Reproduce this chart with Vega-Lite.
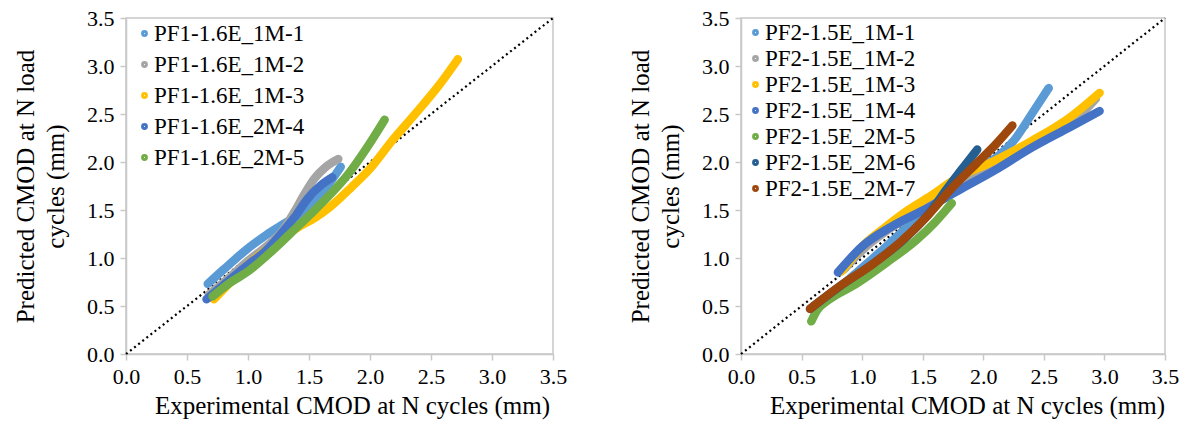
{
  "$schema": "https://vega.github.io/schema/vega-lite/v6.json",
  "background": "white",
  "padding": {"left": 12, "top": 6, "right": 5, "bottom": 2},
  "spacing": 188,
  "bounds": "flush",
  "datasets": {
    "pf1": [
      {"series": "PF1-1.6E_1M-1", "x": 0.67, "y": 0.73},
      {"series": "PF1-1.6E_1M-1", "x": 0.8, "y": 0.88},
      {"series": "PF1-1.6E_1M-1", "x": 1.0, "y": 1.1},
      {"series": "PF1-1.6E_1M-1", "x": 1.15, "y": 1.24},
      {"series": "PF1-1.6E_1M-1", "x": 1.3, "y": 1.36},
      {"series": "PF1-1.6E_1M-1", "x": 1.45, "y": 1.48},
      {"series": "PF1-1.6E_1M-1", "x": 1.6, "y": 1.65},
      {"series": "PF1-1.6E_1M-1", "x": 1.69, "y": 1.82},
      {"series": "PF1-1.6E_1M-1", "x": 1.76, "y": 1.95},
      {"series": "PF1-1.6E_1M-2", "x": 0.68, "y": 0.62},
      {"series": "PF1-1.6E_1M-2", "x": 0.85, "y": 0.8},
      {"series": "PF1-1.6E_1M-2", "x": 1.0, "y": 0.97},
      {"series": "PF1-1.6E_1M-2", "x": 1.15, "y": 1.12},
      {"series": "PF1-1.6E_1M-2", "x": 1.28, "y": 1.28},
      {"series": "PF1-1.6E_1M-2", "x": 1.38, "y": 1.48},
      {"series": "PF1-1.6E_1M-2", "x": 1.46, "y": 1.66},
      {"series": "PF1-1.6E_1M-2", "x": 1.54, "y": 1.82},
      {"series": "PF1-1.6E_1M-2", "x": 1.63, "y": 1.94},
      {"series": "PF1-1.6E_1M-2", "x": 1.74, "y": 2.03},
      {"series": "PF1-1.6E_1M-3", "x": 0.72, "y": 0.57},
      {"series": "PF1-1.6E_1M-3", "x": 0.82, "y": 0.7},
      {"series": "PF1-1.6E_1M-3", "x": 1.0, "y": 0.93},
      {"series": "PF1-1.6E_1M-3", "x": 1.2, "y": 1.13},
      {"series": "PF1-1.6E_1M-3", "x": 1.41, "y": 1.32},
      {"series": "PF1-1.6E_1M-3", "x": 1.55, "y": 1.42},
      {"series": "PF1-1.6E_1M-3", "x": 1.68, "y": 1.54},
      {"series": "PF1-1.6E_1M-3", "x": 1.85, "y": 1.74},
      {"series": "PF1-1.6E_1M-3", "x": 2.0, "y": 1.93},
      {"series": "PF1-1.6E_1M-3", "x": 2.18, "y": 2.22},
      {"series": "PF1-1.6E_1M-3", "x": 2.37, "y": 2.5},
      {"series": "PF1-1.6E_1M-3", "x": 2.56, "y": 2.79},
      {"series": "PF1-1.6E_1M-3", "x": 2.72, "y": 3.07},
      {"series": "PF1-1.6E_2M-4", "x": 0.66, "y": 0.57},
      {"series": "PF1-1.6E_2M-4", "x": 0.8, "y": 0.72},
      {"series": "PF1-1.6E_2M-4", "x": 1.0, "y": 0.93},
      {"series": "PF1-1.6E_2M-4", "x": 1.15, "y": 1.08},
      {"series": "PF1-1.6E_2M-4", "x": 1.27, "y": 1.25},
      {"series": "PF1-1.6E_2M-4", "x": 1.38, "y": 1.42},
      {"series": "PF1-1.6E_2M-4", "x": 1.49, "y": 1.62},
      {"series": "PF1-1.6E_2M-4", "x": 1.6, "y": 1.76},
      {"series": "PF1-1.6E_2M-4", "x": 1.69, "y": 1.84},
      {"series": "PF1-1.6E_2M-5", "x": 0.71, "y": 0.6},
      {"series": "PF1-1.6E_2M-5", "x": 0.85, "y": 0.74},
      {"series": "PF1-1.6E_2M-5", "x": 1.0, "y": 0.86},
      {"series": "PF1-1.6E_2M-5", "x": 1.15, "y": 1.02},
      {"series": "PF1-1.6E_2M-5", "x": 1.27, "y": 1.16},
      {"series": "PF1-1.6E_2M-5", "x": 1.4, "y": 1.32},
      {"series": "PF1-1.6E_2M-5", "x": 1.54, "y": 1.49},
      {"series": "PF1-1.6E_2M-5", "x": 1.68, "y": 1.67},
      {"series": "PF1-1.6E_2M-5", "x": 1.82, "y": 1.87},
      {"series": "PF1-1.6E_2M-5", "x": 1.96, "y": 2.12},
      {"series": "PF1-1.6E_2M-5", "x": 2.12, "y": 2.44}
    ],
    "pf2": [
      {"series": "PF2-1.5E_1M-1", "x": 0.6, "y": 0.5},
      {"series": "PF2-1.5E_1M-1", "x": 0.8, "y": 0.68},
      {"series": "PF2-1.5E_1M-1", "x": 1.0, "y": 0.9},
      {"series": "PF2-1.5E_1M-1", "x": 1.2, "y": 1.12},
      {"series": "PF2-1.5E_1M-1", "x": 1.4, "y": 1.36},
      {"series": "PF2-1.5E_1M-1", "x": 1.6, "y": 1.6},
      {"series": "PF2-1.5E_1M-1", "x": 1.8, "y": 1.8},
      {"series": "PF2-1.5E_1M-1", "x": 2.0, "y": 1.96},
      {"series": "PF2-1.5E_1M-1", "x": 2.13, "y": 2.07},
      {"series": "PF2-1.5E_1M-1", "x": 2.25, "y": 2.22},
      {"series": "PF2-1.5E_1M-1", "x": 2.4, "y": 2.5},
      {"series": "PF2-1.5E_1M-1", "x": 2.54, "y": 2.77},
      {"series": "PF2-1.5E_1M-2", "x": 0.85, "y": 0.88},
      {"series": "PF2-1.5E_1M-2", "x": 1.0, "y": 1.08},
      {"series": "PF2-1.5E_1M-2", "x": 1.2, "y": 1.28},
      {"series": "PF2-1.5E_1M-2", "x": 1.4, "y": 1.44},
      {"series": "PF2-1.5E_1M-2", "x": 1.6, "y": 1.6},
      {"series": "PF2-1.5E_1M-2", "x": 1.8, "y": 1.78},
      {"series": "PF2-1.5E_1M-2", "x": 2.0, "y": 1.92},
      {"series": "PF2-1.5E_1M-2", "x": 2.2, "y": 2.04},
      {"series": "PF2-1.5E_1M-2", "x": 2.4, "y": 2.18},
      {"series": "PF2-1.5E_1M-2", "x": 2.6, "y": 2.32},
      {"series": "PF2-1.5E_1M-2", "x": 2.8, "y": 2.49},
      {"series": "PF2-1.5E_1M-2", "x": 2.93, "y": 2.66},
      {"series": "PF2-1.5E_1M-3", "x": 0.83, "y": 0.86},
      {"series": "PF2-1.5E_1M-3", "x": 1.0, "y": 1.12},
      {"series": "PF2-1.5E_1M-3", "x": 1.2, "y": 1.33},
      {"series": "PF2-1.5E_1M-3", "x": 1.38, "y": 1.5},
      {"series": "PF2-1.5E_1M-3", "x": 1.57, "y": 1.65},
      {"series": "PF2-1.5E_1M-3", "x": 1.79, "y": 1.84},
      {"series": "PF2-1.5E_1M-3", "x": 2.09, "y": 2.01},
      {"series": "PF2-1.5E_1M-3", "x": 2.4, "y": 2.22},
      {"series": "PF2-1.5E_1M-3", "x": 2.71, "y": 2.46},
      {"series": "PF2-1.5E_1M-3", "x": 2.96, "y": 2.72},
      {"series": "PF2-1.5E_1M-4", "x": 0.8, "y": 0.85},
      {"series": "PF2-1.5E_1M-4", "x": 1.0, "y": 1.12},
      {"series": "PF2-1.5E_1M-4", "x": 1.26, "y": 1.34},
      {"series": "PF2-1.5E_1M-4", "x": 1.54, "y": 1.52},
      {"series": "PF2-1.5E_1M-4", "x": 1.79, "y": 1.7},
      {"series": "PF2-1.5E_1M-4", "x": 2.09, "y": 1.91},
      {"series": "PF2-1.5E_1M-4", "x": 2.4, "y": 2.15},
      {"series": "PF2-1.5E_1M-4", "x": 2.71, "y": 2.36},
      {"series": "PF2-1.5E_1M-4", "x": 2.96, "y": 2.53},
      {"series": "PF2-1.5E_2M-5", "x": 0.58, "y": 0.34},
      {"series": "PF2-1.5E_2M-5", "x": 0.63, "y": 0.46},
      {"series": "PF2-1.5E_2M-5", "x": 0.72, "y": 0.56},
      {"series": "PF2-1.5E_2M-5", "x": 0.95, "y": 0.73},
      {"series": "PF2-1.5E_2M-5", "x": 1.2, "y": 0.95},
      {"series": "PF2-1.5E_2M-5", "x": 1.45, "y": 1.19},
      {"series": "PF2-1.5E_2M-5", "x": 1.6, "y": 1.37},
      {"series": "PF2-1.5E_2M-5", "x": 1.74, "y": 1.57},
      {"series": "PF2-1.5E_2M-6", "x": 0.57, "y": 0.47},
      {"series": "PF2-1.5E_2M-6", "x": 0.8, "y": 0.69},
      {"series": "PF2-1.5E_2M-6", "x": 1.1, "y": 0.95},
      {"series": "PF2-1.5E_2M-6", "x": 1.35, "y": 1.2},
      {"series": "PF2-1.5E_2M-6", "x": 1.55, "y": 1.46},
      {"series": "PF2-1.5E_2M-6", "x": 1.7, "y": 1.72},
      {"series": "PF2-1.5E_2M-6", "x": 1.82, "y": 1.92},
      {"series": "PF2-1.5E_2M-6", "x": 1.95, "y": 2.13},
      {"series": "PF2-1.5E_2M-7", "x": 0.57, "y": 0.47},
      {"series": "PF2-1.5E_2M-7", "x": 0.83, "y": 0.72},
      {"series": "PF2-1.5E_2M-7", "x": 1.08, "y": 0.93},
      {"series": "PF2-1.5E_2M-7", "x": 1.32, "y": 1.17},
      {"series": "PF2-1.5E_2M-7", "x": 1.54, "y": 1.44},
      {"series": "PF2-1.5E_2M-7", "x": 1.72, "y": 1.7},
      {"series": "PF2-1.5E_2M-7", "x": 1.94, "y": 1.98},
      {"series": "PF2-1.5E_2M-7", "x": 2.1, "y": 2.18},
      {"series": "PF2-1.5E_2M-7", "x": 2.24, "y": 2.38}
    ],
    "diagonal": [
      {"x": 0, "y": 0},
      {"x": 3.5, "y": 3.5}
    ]
  },
  "config": {
    "view": {"stroke": "#c8c8c8", "strokeWidth": 1.5},
    "legend": {
      "orient": "none",
      "title": null,
      "padding": 0,
      "labelFont": "Liberation Serif, serif",
      "labelFontSize": 23,
      "labelColor": "#000000",
      "labelOffset": -2,
      "symbolType": "circle",
      "symbolSize": 8,
      "symbolStrokeWidth": 4
    }
  },
  "resolve": {"scale": {"color": "independent"}, "legend": {"color": "independent"}},
  "hconcat": [
    {
      "width": 427,
      "height": 336,
      "encoding": {
        "x": {"field": "x", "type": "quantitative", "scale": {"domain": [0, 3.5], "nice": false},
          "axis": {"title": "Experimental CMOD at N cycles (mm)", "values": [0, 0.5, 1, 1.5, 2, 2.5, 3, 3.5], "format": ".1f", "grid": false, "domainColor": "#c8c8c8", "domainWidth": 1.5, "tickColor": "#c8c8c8", "tickWidth": 1.5, "tickSize": 6, "labelFlush": false, "labelFont": "Liberation Serif", "labelFontSize": 22, "labelColor": "#000000", "labelPadding": 6, "titleFont": "Liberation Serif", "titleFontSize": 25, "titleFontWeight": "normal", "titleColor": "#000000", "titleX": 226, "titlePadding": 6}},
        "y": {"field": "y", "type": "quantitative", "scale": {"domain": [0, 3.5], "nice": false},
          "axis": {"title": ["Predicted CMOD at N load", "cycles (mm)"], "values": [0, 0.5, 1, 1.5, 2, 2.5, 3, 3.5], "format": ".1f", "grid": false, "domainColor": "#c8c8c8", "domainWidth": 1.5, "tickColor": "#c8c8c8", "tickWidth": 1.5, "tickSize": 6, "labelFlush": false, "labelFont": "Liberation Serif", "labelFontSize": 22, "labelColor": "#000000", "labelPadding": 6, "titleFont": "Liberation Serif", "titleFontSize": 25, "titleFontWeight": "normal", "titleColor": "#000000", "titlePadding": 18, "titleLineHeight": 30}}
      },
      "layer": [
        {
          "data": {"name": "diagonal"},
          "mark": {"type": "line", "color": "#000000", "strokeWidth": 2.2, "strokeDash": [2, 3.2]}
        },
        {
          "data": {"name": "pf1"},
          "mark": {"type": "line", "strokeWidth": 8.5, "strokeCap": "round", "strokeJoin": "round", "interpolate": "monotone"},
          "encoding": {
            "color": {
              "field": "series", "type": "nominal",
              "scale": {
                "domain": ["PF1-1.6E_1M-1", "PF1-1.6E_1M-2", "PF1-1.6E_1M-3", "PF1-1.6E_2M-4", "PF1-1.6E_2M-5"],
                "range": ["#5B9BD5", "#A5A5A5", "#FFC000", "#4472C4", "#70AD47"]
              },
              "legend": {"legendX": 7, "legendY": 4, "rowPadding": 7}
            }
          }
        }
      ]
    },
    {
      "width": 424,
      "height": 336,
      "encoding": {
        "x": {"field": "x", "type": "quantitative", "scale": {"domain": [0, 3.5], "nice": false},
          "axis": {"title": "Experimental CMOD at N cycles (mm)", "values": [0, 0.5, 1, 1.5, 2, 2.5, 3, 3.5], "format": ".1f", "grid": false, "domainColor": "#c8c8c8", "domainWidth": 1.5, "tickColor": "#c8c8c8", "tickWidth": 1.5, "tickSize": 6, "labelFlush": false, "labelFont": "Liberation Serif", "labelFontSize": 22, "labelColor": "#000000", "labelPadding": 6, "titleFont": "Liberation Serif", "titleFontSize": 25, "titleFontWeight": "normal", "titleColor": "#000000", "titleX": 226, "titlePadding": 6}},
        "y": {"field": "y", "type": "quantitative", "scale": {"domain": [0, 3.5], "nice": false},
          "axis": {"title": ["Predicted CMOD at N load", "cycles (mm)"], "values": [0, 0.5, 1, 1.5, 2, 2.5, 3, 3.5], "format": ".1f", "grid": false, "domainColor": "#c8c8c8", "domainWidth": 1.5, "tickColor": "#c8c8c8", "tickWidth": 1.5, "tickSize": 6, "labelFlush": false, "labelFont": "Liberation Serif", "labelFontSize": 22, "labelColor": "#000000", "labelPadding": 6, "titleFont": "Liberation Serif", "titleFontSize": 25, "titleFontWeight": "normal", "titleColor": "#000000", "titlePadding": 18, "titleLineHeight": 30}}
      },
      "layer": [
        {
          "data": {"name": "diagonal"},
          "mark": {"type": "line", "color": "#000000", "strokeWidth": 2.2, "strokeDash": [2, 3.2]}
        },
        {
          "data": {"name": "pf2"},
          "mark": {"type": "line", "strokeWidth": 8.5, "strokeCap": "round", "strokeJoin": "round", "interpolate": "monotone"},
          "encoding": {
            "color": {
              "field": "series", "type": "nominal",
              "scale": {
                "domain": ["PF2-1.5E_1M-1", "PF2-1.5E_1M-2", "PF2-1.5E_1M-3", "PF2-1.5E_1M-4", "PF2-1.5E_2M-5", "PF2-1.5E_2M-6", "PF2-1.5E_2M-7"],
                "range": ["#5B9BD5", "#A5A5A5", "#FFC000", "#4472C4", "#70AD47", "#255E91", "#9E480E"]
              },
              "legend": {"legendX": 3, "legendY": 3, "rowPadding": 2}
            }
          }
        }
      ]
    }
  ]
}
